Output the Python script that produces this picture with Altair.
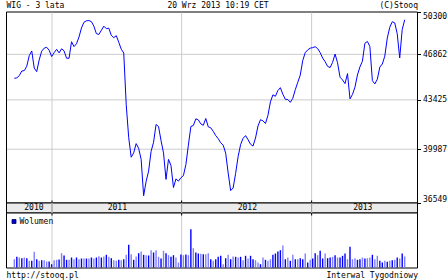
import altair as alt
import pandas as pd

# ---------------- data ----------------
dates = pd.date_range("2010-09-17", periods=158, freq="7D").strftime("%Y-%m-%d").tolist()

wig = [
    45022, 45052, 45226, 45573, 45603, 45942, 46764, 47129, 45799, 45527,
    46432, 47113, 47349, 47422, 47186, 46689, 46991, 47259, 46975, 47300,
    47137, 46560, 46553, 47861, 47471, 47698, 48235, 48975, 49446, 49568,
    49585, 49495, 49121, 48511, 48446, 48788, 49121, 48918, 48959, 48373,
    48186, 48349, 47820, 47268, 46967, 43070, 40769, 39457, 39744, 40365,
    40045, 39316, 36996, 37891, 38549, 39840, 40456, 41676, 41536, 40574,
    39744, 38019, 39316, 38913, 37508, 38051, 37910, 38128, 38262, 38977,
    40261, 41536, 41606, 42073, 41996, 41717, 41620, 42094, 41515, 41446,
    41202, 40909, 40700, 40421, 40261, 39725, 38434, 37316, 37476, 38402,
    39489, 40295, 40721, 40909, 40630, 40323, 40198, 40742, 41571, 42010,
    41933, 41745, 42317, 43279, 43793, 43688, 44110, 44321, 43838, 43469,
    43454, 43251, 43544, 44170, 44721, 45264, 46379, 46999, 47211, 47349,
    47389, 47463, 47316, 46999, 46575, 46289, 45927, 45837, 46236, 46885,
    46206, 45105, 44902, 44623, 45377, 43499, 43823, 44359, 45271, 45889,
    46327, 47739, 47885, 47471, 44849, 44600, 44954, 45874, 46108, 46719,
    48154, 49032, 49487, 49389, 48503, 46583, 48837, 49650,
]

volume = [
    8.3, 10.7, 10, 9.3, 10, 9.3, 6.7, 6.7, 15.7, 8.3,
    6.7, 7.3, 7.3, 6, 6, 3.3, 7.3, 7.7, 8, 14.3,
    12, 7.7, 7.7, 10, 8.3, 10, 8.3, 9, 9, 9,
    9, 10, 9, 10, 11.3, 10, 11, 12.7, 10.7, 9.3,
    7.3, 6.7, 7.7, 7.3, 8.3, 12.7, 22.7, 13.3, 7.7, 11,
    14.3, 16, 12.7, 12.3, 12, 17.3, 15, 17.3, 10.7, 9,
    16.7, 14.3, 12.3, 10.7, 12.3, 10, 5, 13, 12.3, 13,
    12.3, 38.3, 19.3, 15, 14, 13.7, 13.3, 13.3, 14.3, 8.3,
    6.7, 8.3, 10.7, 11.7, 3.3, 9.3, 12.7, 8.3, 11, 10.7,
    10, 10.7, 7.3, 11.7, 9, 11.7, 8.3, 7.3, 5, 3.3,
    10, 7.7, 6.7, 8.3, 12.7, 14, 16, 17.3, 22, 8.3,
    10, 6.7, 12.7, 8.3, 8.3, 9.3, 8.3, 14, 5, 7.7,
    9, 14.3, 12.3, 16.7, 9, 14, 9.3, 10, 10.7, 12.3,
    10, 10, 11.7, 14, 8.3, 20.7, 8.3, 9.3, 7.7, 8.3,
    10, 9, 9.3, 10, 12.7, 8.3, 11.7, 6.7, 5, 6.7,
    5.7, 6.7, 7.3, 7.7, 10, 9, 14, 11,
]

vol_dark = [
    0, 1, 0, 1, 0, 1, 0, 1, 0, 1,
    0, 1, 0, 0, 1, 1, 0, 0, 1, 0,
    1, 1, 0, 1, 0, 1, 0, 1, 0, 1,
    0, 1, 0, 1, 0, 1, 0, 1, 0, 1,
    0, 0, 1, 0, 1, 0, 1, 0, 1, 0,
    1, 0, 1, 0, 1, 0, 1, 0, 0, 1,
    0, 1, 0, 1, 1, 0, 0, 1, 0, 1,
    0, 1, 0, 1, 1, 0, 1, 0, 0, 1,
    0, 1, 1, 1, 0, 1, 0, 1, 0, 1,
    0, 1, 0, 1, 0, 1, 1, 0, 0, 1,
    0, 1, 0, 0, 1, 1, 1, 1, 0, 1,
    0, 1, 0, 1, 0, 1, 1, 0, 1, 0,
    1, 1, 0, 1, 1, 0, 1, 1, 0, 1,
    0, 1, 1, 1, 0, 1, 0, 0, 1, 1,
    0, 1, 0, 0, 1, 0, 0, 1, 1, 0,
    1, 0, 1, 0, 1, 0, 1, 0,
]

y_ticks = [36549, 39987, 43425, 46862, 50300]
grid_y = [39987, 43425, 46862]
grid_years = ["2011-01-01", "2012-01-01", "2013-01-01"]
year_names = ["2010", "2011", "2012", "2013"]
year_label_dates = ["2010-11-11", "2011-07-04", "2012-07-04", "2013-05-25"]

# ---------------- layout constants ----------------
W, H = 448, 280
X0, X1 = 6.5, 417.5
MAIN_TOP, MAIN_BOT = 12, 203
BAR_BOT = 213
VOL_BOT = 268
FONT = "DejaVu Sans Mono"
FS = 8
BLUE = "#0000ff"
LIGHT = "#8080ff"
GRID = "#cccccc"

df = pd.DataFrame({
    "date": dates,
    "wig": wig,
    "volume": volume,
    "kind": ["dark" if d else "light" for d in vol_dark],
})
one = pd.DataFrame({"a": [1]})

xscale = alt.Scale(
    type="utc",
    domain=[alt.DateTime(year=2010, month=9, date=9, utc=True),
            alt.DateTime(year=2013, month=10, date=12, utc=True)],
    range=[X0, X1],
)
yscale = alt.Scale(type="log", domain=[36549, 50300], range=[MAIN_BOT, MAIN_TOP], nice=False)
vscale = alt.Scale(domain=[0, 54], range=[267.5, 213.5], nice=False)


def box(y0, y1, fill):
    return alt.Chart(one).mark_rect(fill=fill, stroke="black", strokeWidth=1).encode(
        x=alt.value(X0), x2=alt.value(X1), y=alt.value(y0), y2=alt.value(y1)
    )


main_box = box(MAIN_TOP, MAIN_BOT, "white")
date_box = box(MAIN_BOT, BAR_BOT, "#ebebeb")
vol_box = box(BAR_BOT, VOL_BOT, "white")

hgrid = alt.Chart(pd.DataFrame({"v": grid_y})).mark_rule(color=GRID, strokeWidth=1).encode(
    y=alt.Y("v:Q", scale=yscale, axis=None), x=alt.value(X0 + 0.5), x2=alt.value(X1 - 0.5)
)

vgrid = alt.Chart(pd.DataFrame({"d": grid_years})).mark_rule(color=GRID, strokeWidth=1).encode(
    x=alt.X("d:T", scale=xscale, axis=None), y=alt.value(MAIN_TOP + 0.5), y2=alt.value(VOL_BOT - 0.5)
)
vgrid_bar = alt.Chart(pd.DataFrame({"d": grid_years})).mark_rule(color="#999999", strokeWidth=1).encode(
    x=alt.X("d:T", scale=xscale, axis=None), y=alt.value(MAIN_BOT), y2=alt.value(BAR_BOT)
)
vtick1 = alt.Chart(pd.DataFrame({"d": grid_years})).mark_rule(color="black", strokeWidth=1).encode(
    x=alt.X("d:T", scale=xscale, axis=None), y=alt.value(MAIN_BOT - 2.5), y2=alt.value(MAIN_BOT)
)
vtick2 = alt.Chart(pd.DataFrame({"d": grid_years})).mark_rule(color="black", strokeWidth=1).encode(
    x=alt.X("d:T", scale=xscale, axis=None), y=alt.value(BAR_BOT), y2=alt.value(BAR_BOT + 2.5)
)

yaxis = alt.Axis(
    orient="right", values=y_ticks, offset=X1 - W, domain=False, grid=False,
    ticks=True, tickSize=3, tickColor="black", labelPadding=2,
    labelFont=FONT, labelFontSize=FS, labelColor="black", labelFlush=True,
    labelOverlap=False, format="d", title=None,
)

line = alt.Chart(df).mark_line(color=BLUE, strokeWidth=1).encode(
    x=alt.X("date:T", scale=xscale, axis=None),
    y=alt.Y("wig:Q", scale=yscale, axis=yaxis),
)

bars = alt.Chart(df).mark_bar(size=1.4).encode(
    x=alt.X("date:T", scale=xscale, axis=None),
    y=alt.Y("volume:Q", scale=vscale, axis=None),
    color=alt.Color("kind:N", scale=alt.Scale(domain=["dark", "light"], range=[BLUE, LIGHT]), legend=None),
)

year_text = alt.Chart(pd.DataFrame({"d": year_label_dates, "t": year_names})).mark_text(
    font=FONT, fontSize=FS, color="black", baseline="middle", align="center"
).encode(x=alt.X("d:T", scale=xscale, axis=None), y=alt.value(208.3), text="t:N")


def label(txt, x, y, align):
    return alt.Chart(one).mark_text(
        text=txt, font=FONT, fontSize=FS, color="black", baseline="middle", align=align
    ).encode(x=alt.value(x), y=alt.value(y))


t_title = label("WIG - 3 lata", 6.5, 5.5, "left")
t_date = label("20 Wrz 2013 10:19 CET", 218, 5.5, "center")
t_copy = label("(C)Stooq", 418, 5.5, "right")
t_url = label("http://stooq.pl", 6.5, 275.8, "left")
t_int = label("Interwal Tygodniowy", 418, 275.8, "right")
t_leg = label("Wolumen", 19.5, 221.5, "left")
leg_sq = alt.Chart(one).mark_rect(fill="#0000cc", stroke="#000066", strokeWidth=0.8).encode(
    x=alt.value(12), x2=alt.value(16), y=alt.value(219.5), y2=alt.value(223.5)
)

chart = alt.layer(
    main_box, date_box, vol_box,
    hgrid, vgrid, vgrid_bar, vtick1, vtick2,
    bars, line, year_text,
    t_title, t_date, t_copy, t_url, t_int, t_leg, leg_sq,
).resolve_scale(
    y="independent"
).properties(
    width=W, height=H, padding=0, background="white",
    autosize=alt.AutoSizeParams(type="none"),
).configure_view(stroke=None)

chart.save("out.html", embed_options={"renderer": "svg", "actions": False})
